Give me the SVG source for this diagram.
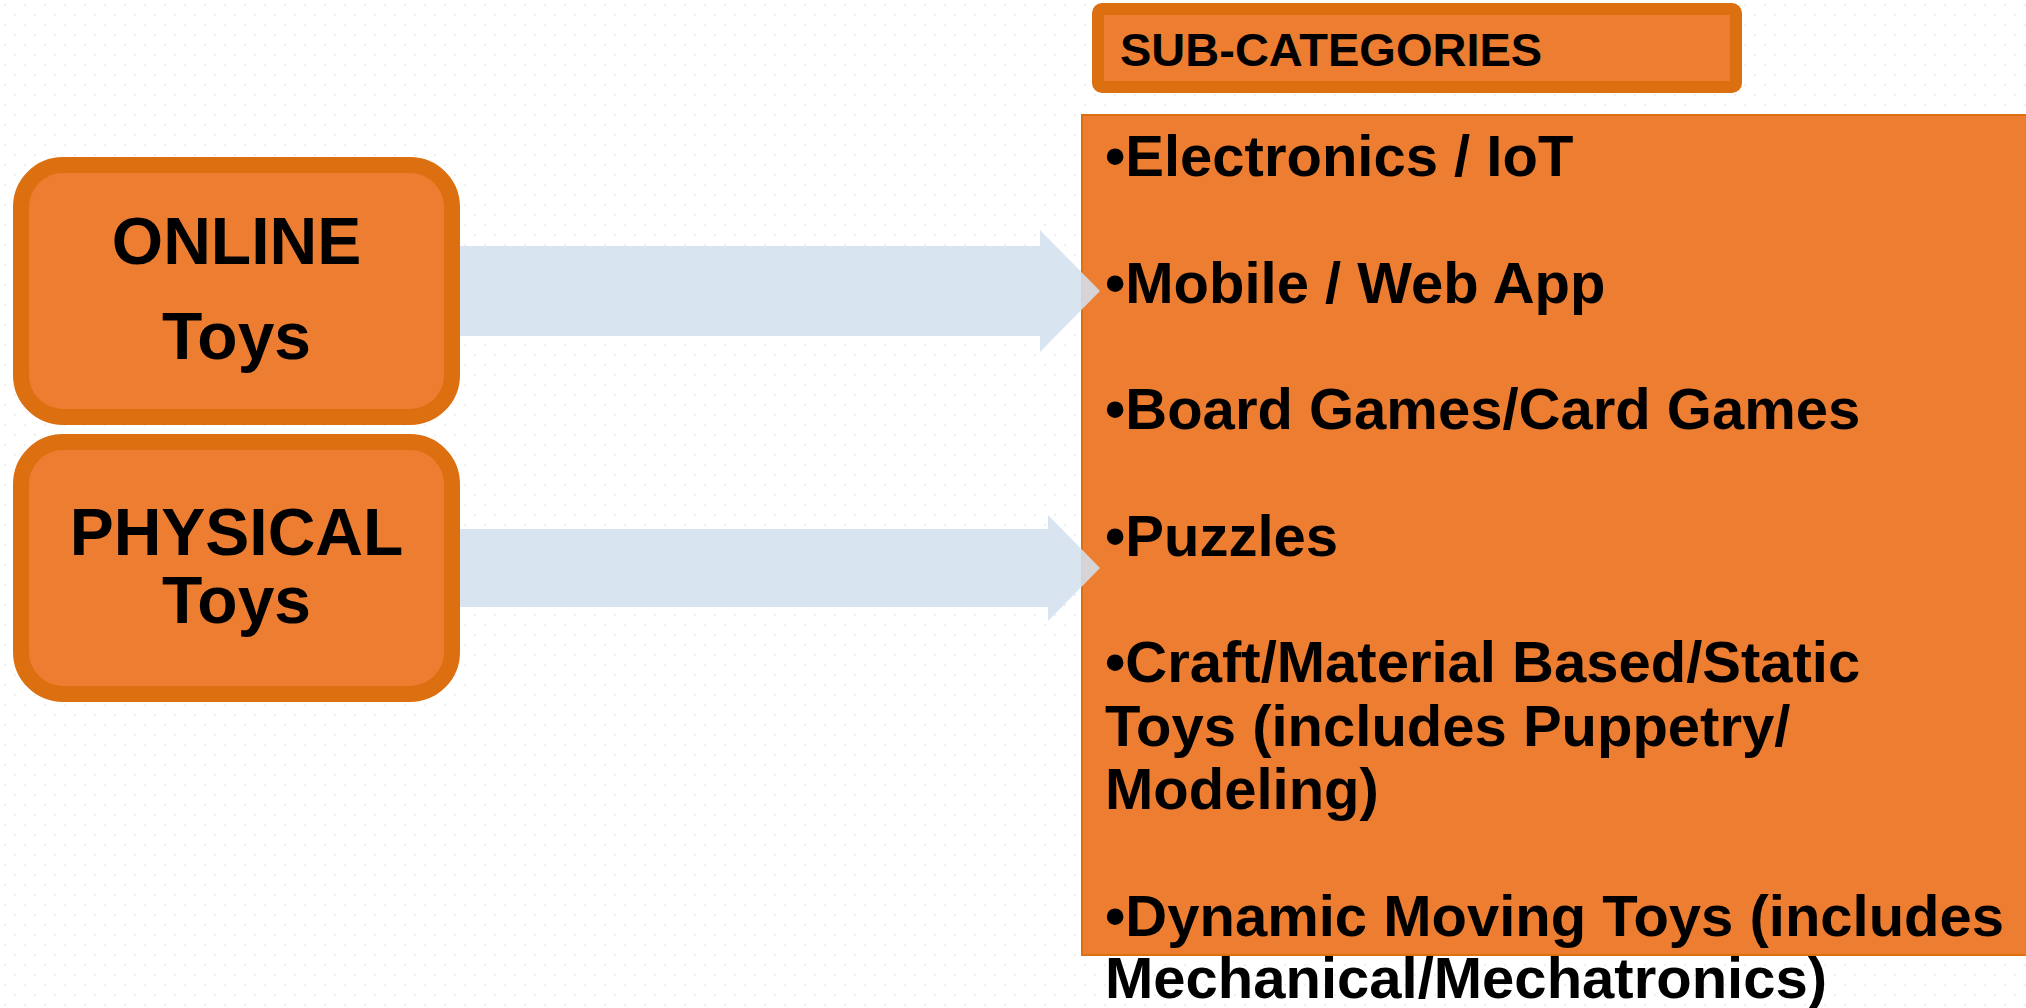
<svg xmlns="http://www.w3.org/2000/svg" width="2026" height="1008" viewBox="0 0 2026 1008">
  <defs>
    <pattern id="dots" width="20" height="20" patternUnits="userSpaceOnUse">
      <circle cx="5" cy="5" r="1" fill="#EAEAEA"/>
      <circle cx="15" cy="15" r="1" fill="#EAEAEA"/>
    </pattern>
    <style>
      .node { fill: #ED7D31; stroke: #DC6F10; stroke-width: 16; }
      .head { fill: #ED7D31; stroke: #DC6F10; stroke-width: 12; }
      .panel { fill: #ED7D31; stroke: #DC6F10; stroke-width: 2; }
      .arrow { fill: #D4E0EF; opacity: 0.88; }
      .t { font-family: "Liberation Sans", Arial, sans-serif; font-weight: bold; fill: #000; }
      .nt { font-size: 66px; text-anchor: middle; }
      .ht { font-size: 47px; }
      .lt { font-size: 58px; }
    </style>
  </defs>
  <rect width="2026" height="1008" fill="#FFFFFF"/>
  <rect width="2026" height="1008" fill="url(#dots)"/>

  <g id="subcategories-list">
    <rect class="panel" x="1082" y="115" width="960" height="840"/>
  </g>

  <g id="connectors">
    <path class="arrow" d="M458,246 L1040,246 L1040,230 L1100,291 L1040,352 L1040,336 L458,336 Z"/>
    <path class="arrow" d="M458,529 L1048,529 L1048,515 L1100,568 L1048,621 L1048,607 L458,607 Z"/>
  </g>

  <g id="subcategories-text" class="t lt">
    <text x="1105" y="176">•Electronics / IoT</text>
    <text x="1105" y="303">•Mobile / Web App</text>
    <text x="1105" y="429">•Board Games/Card Games</text>
    <text x="1105" y="556">•Puzzles</text>
    <text x="1105" y="682">•Craft/Material Based/Static</text>
    <text x="1105" y="746">Toys (includes Puppetry/</text>
    <text x="1105" y="809">Modeling)</text>
    <text x="1105" y="936">•Dynamic Moving Toys (includes</text>
    <text x="1105" y="998">Mechanical/Mechatronics)</text>
  </g>

  <g id="subcategories-header">
    <rect class="head" x="1098" y="9" width="638" height="78" rx="4"/>
    <text class="t ht" x="1120" y="66">SUB-CATEGORIES</text>
  </g>

  <g id="online-toys">
    <rect class="node" x="21" y="165" width="431" height="252" rx="42"/>
    <text class="t nt" x="236.5" y="264">ONLINE</text>
    <text class="t nt" x="236.5" y="359">Toys</text>
  </g>

  <g id="physical-toys">
    <rect class="node" x="21" y="442" width="431" height="252" rx="42"/>
    <text class="t nt" x="236.5" y="555">PHYSICAL</text>
    <text class="t nt" x="236.5" y="623">Toys</text>
  </g>
</svg>
